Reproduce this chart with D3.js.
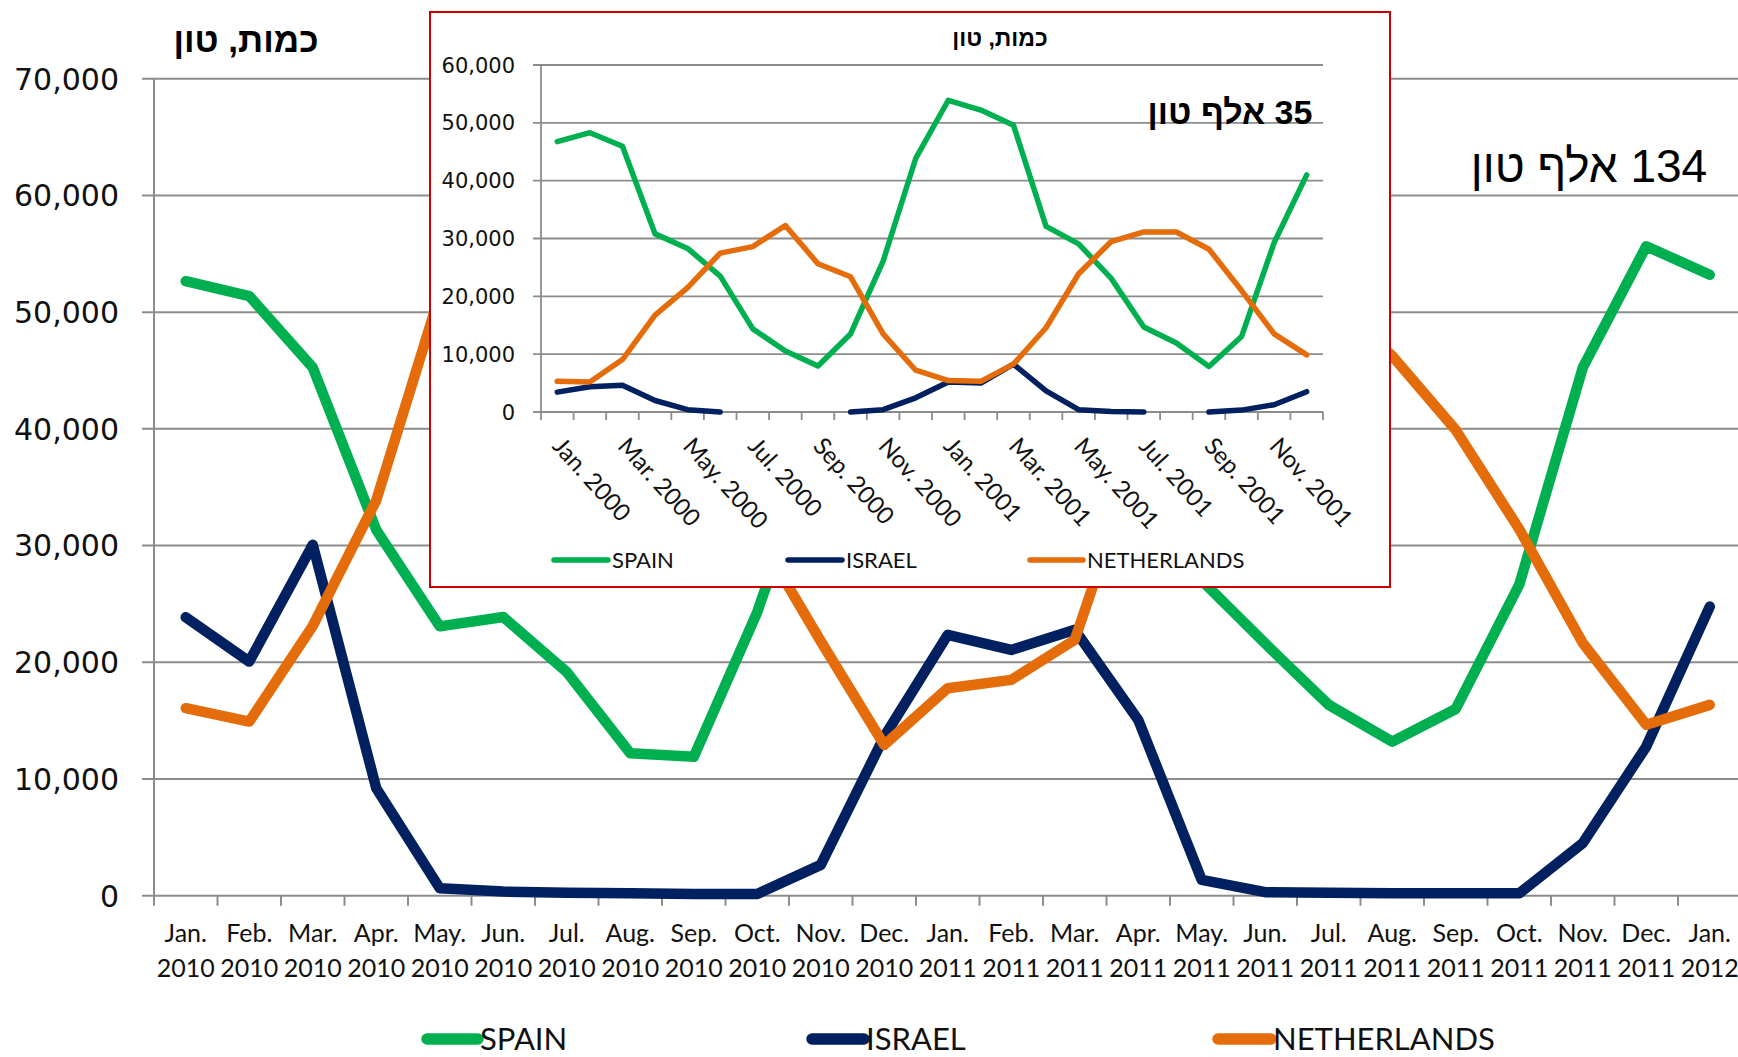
<!DOCTYPE html>
<html><head><meta charset="utf-8">
<script src="https://cdn.jsdelivr.net/npm/d3@7"></script>
<style>
html,body{margin:0;padding:0;background:#fff;overflow:hidden}
svg{display:block}
</style></head><body>
<svg id="chart" width="1738" height="1057"></svg>
<script>
// ---------- DATA ----------
const mainCategories = ["Jan. 2010","Feb. 2010","Mar. 2010","Apr. 2010","May. 2010","Jun. 2010","Jul. 2010","Aug. 2010","Sep. 2010","Oct. 2010","Nov. 2010","Dec. 2010",
  "Jan. 2011","Feb. 2011","Mar. 2011","Apr. 2011","May. 2011","Jun. 2011","Jul. 2011","Aug. 2011","Sep. 2011","Oct. 2011","Nov. 2011","Dec. 2011","Jan. 2012"];
const mainSpain = [52650,51380,45250,31350,23080,23880,19170,12200,11900,24300,40000,50000,55000,54000,47000,36000,27000,21600,16350,13200,16000,26650,45240,55650,53200];
const mainIsrael = [23860,20060,30060,9210,640,350,250,200,150,150,2640,13630,22350,21060,22780,15060,1350,300,250,200,200,200,4500,12780,24770];
const mainNetherlands = [16070,14920,23120,33880,51500,56000,57000,53000,43000,31000,21800,12920,17780,18490,21920,38000,48000,53000,51000,46250,39900,31400,21650,14640,16350];
const mainYTicks = [0,10000,20000,30000,40000,50000,60000,70000];

const insetCategories = ["Jan. 2000","Feb. 2000","Mar. 2000","Apr. 2000","May. 2000","Jun. 2000","Jul. 2000","Aug. 2000","Sep. 2000","Oct. 2000","Nov. 2000","Dec. 2000",
  "Jan. 2001","Feb. 2001","Mar. 2001","Apr. 2001","May. 2001","Jun. 2001","Jul. 2001","Aug. 2001","Sep. 2001","Oct. 2001","Nov. 2001","Dec. 2001"];
const insetSpain = [46750,48300,45960,30800,28280,23500,14370,10530,7950,13500,26100,43840,53900,52200,49600,32100,29070,23100,14700,11920,7880,13050,29270,41000];
const insetIsrael = [3440,4370,4640,1990,400,0,null,null,null,0,400,2450,5170,5000,8280,3640,400,100,0,null,0,330,1260,3510];
const insetNetherlands = [5300,5170,9070,16750,21520,27480,28600,32250,25630,23380,13510,7220,5430,5300,8280,14570,23900,29470,31130,31130,28150,21000,13510,9870];
const insetYTicks = [0,10000,20000,30000,40000,50000,60000];

const seriesNames = ["SPAIN","ISRAEL","NETHERLANDS"];
const seriesColors = ["#00B050","#002060","#E46C0A"];
const mainTitle = "כמות, טון";
const mainNote = "134 אלף טון";
const insetTitle = "כמות, טון";
const insetNote = "35 אלף טון";

// ---------- DRAW ----------
const svg = d3.select("#chart");
const fmt = d3.format(",");
const grid = "#8c8c8c";

// main chart
const mx = d3.scaleBand().domain(mainCategories).range([154, 1741.5]).padding(0);
const my = d3.scaleLinear().domain([0,70000]).range([895.7, 78.7]);
const mcx = c => mx(c) + mx.bandwidth()/2;

const gMain = svg.append("g");
gMain.selectAll("line.grid").data(mainYTicks).join("line")
  .attr("x1", 142).attr("x2", 1741.5)
  .attr("y1", d => my(d)).attr("y2", d => my(d))
  .attr("stroke", grid).attr("stroke-width", 2);
gMain.append("line").attr("x1", 154).attr("x2", 154).attr("y1", my(70000)).attr("y2", my(0)+10)
  .attr("stroke", grid).attr("stroke-width", 2);
gMain.selectAll("line.xt").data(mainCategories.slice(1).concat([null])).join("line")
  .attr("x1", d => d ? mx(d) : mx.range()[1]).attr("x2", d => d ? mx(d) : mx.range()[1])
  .attr("y1", my(0)).attr("y2", my(0)+10).attr("stroke", grid).attr("stroke-width", 2);
gMain.selectAll("text.yl").data(mainYTicks).join("text")
  .attr("x", 119).attr("y", d => my(d)).attr("dy", "0.36em")
  .attr("text-anchor", "end").attr("font-family", "DejaVu Sans, Verdana, sans-serif")
  .attr("font-size", 30).attr("fill", "#111").text(d => fmt(d));
const xl = gMain.selectAll("text.xl").data(mainCategories).join("text")
  .attr("text-anchor", "middle").attr("font-family", "Lato, Carlito, Calibri, sans-serif")
  .attr("font-size", 25).attr("fill", "#111");
xl.append("tspan").attr("x", d => mcx(d)).attr("y", 942).text(d => d.split(" ")[0]);
xl.append("tspan").attr("x", d => mcx(d)).attr("y", 977).text(d => d.split(" ")[1]);

const mainLine = d3.line().defined(d => d != null).x((d,i) => mcx(mainCategories[i])).y(d => my(d));
[mainSpain, mainIsrael, mainNetherlands].forEach((s, k) => {
  gMain.append("path").datum(s).attr("d", mainLine).attr("fill", "none")
    .attr("stroke", seriesColors[k]).attr("stroke-width", 10.5)
    .attr("stroke-linejoin", "round").attr("stroke-linecap", "round");
});
gMain.append("text").attr("x", 246).attr("y", 52).attr("text-anchor", "middle").attr("direction", "rtl")
  .attr("font-family", "Liberation Sans, Arial, sans-serif").attr("font-weight", "bold")
  .attr("font-size", 35).attr("fill", "#000").text(mainTitle);
gMain.append("text").attr("x", 1589).attr("y", 182).attr("text-anchor", "middle").attr("direction", "rtl")
  .attr("font-family", "Liberation Sans, Arial, sans-serif")
  .attr("font-size", 46).attr("fill", "#000").text(mainNote);

// main legend
const mainLegX = [[427, 478], [812, 864], [1218, 1271]];
seriesNames.forEach((n, k) => {
  gMain.append("line").attr("x1", mainLegX[k][0]).attr("x2", mainLegX[k][1]).attr("y1", 1039).attr("y2", 1039)
    .attr("stroke", seriesColors[k]).attr("stroke-width", 11.5).attr("stroke-linecap", "round");
  gMain.append("text").attr("x", mainLegX[k][1] + 2).attr("y", 1039).attr("dy", "0.36em")
    .attr("font-family", "Lato, Carlito, Calibri, sans-serif").attr("font-size", 31).attr("fill", "#111").text(n);
});

// inset chart
const gIn = svg.append("g");
gIn.append("rect").attr("x", 430).attr("y", 12).attr("width", 960).attr("height", 575)
  .attr("fill", "#fff").attr("stroke", "#cc0000").attr("stroke-width", 2);
const ix = d3.scaleBand().domain(insetCategories).range([541, 1323]).padding(0);
const iy = d3.scaleLinear().domain([0,60000]).range([412, 65]);
const icx = c => ix(c) + ix.bandwidth()/2;
gIn.selectAll("line.grid").data(insetYTicks).join("line")
  .attr("x1", 533).attr("x2", 1323)
  .attr("y1", d => iy(d)).attr("y2", d => iy(d))
  .attr("stroke", grid).attr("stroke-width", 1.8);
gIn.append("line").attr("x1", 541).attr("x2", 541).attr("y1", iy(60000)).attr("y2", iy(0)+8)
  .attr("stroke", grid).attr("stroke-width", 1.8);
gIn.selectAll("line.xt").data(insetCategories.slice(1).concat([null])).join("line")
  .attr("x1", d => d ? ix(d) : ix.range()[1]).attr("x2", d => d ? ix(d) : ix.range()[1])
  .attr("y1", iy(0)).attr("y2", iy(0)+8).attr("stroke", grid).attr("stroke-width", 1.8);
gIn.selectAll("text.yl").data(insetYTicks).join("text")
  .attr("x", 515).attr("y", d => iy(d)).attr("dy", "0.36em")
  .attr("text-anchor", "end").attr("font-family", "DejaVu Sans, Verdana, sans-serif")
  .attr("font-size", 21).attr("fill", "#111").text(d => fmt(d));
gIn.selectAll("text.xl").data(insetCategories.filter((d,i) => i % 2 === 0)).join("text")
  .attr("transform", d => `translate(${icx(d) - 6},${iy(0) + 35}) rotate(48)`)
  .attr("font-family", "Lato, Carlito, Calibri, sans-serif").attr("font-size", 24).attr("fill", "#111")
  .text(d => d);
const inLine = d3.line().defined(d => d != null).x((d,i) => icx(insetCategories[i])).y(d => iy(d));
[insetSpain, insetIsrael, insetNetherlands].forEach((s, k) => {
  gIn.append("path").datum(s).attr("d", inLine).attr("fill", "none")
    .attr("stroke", seriesColors[k]).attr("stroke-width", 5.5)
    .attr("stroke-linejoin", "round").attr("stroke-linecap", "round");
});
gIn.append("text").attr("x", 1000).attr("y", 46).attr("text-anchor", "middle").attr("direction", "rtl")
  .attr("font-family", "Liberation Sans, Arial, sans-serif").attr("font-weight", "bold")
  .attr("font-size", 23).attr("fill", "#000").text(insetTitle);
gIn.append("text").attr("x", 1230).attr("y", 124).attr("text-anchor", "middle").attr("direction", "rtl")
  .attr("font-family", "Liberation Sans, Arial, sans-serif").attr("font-weight", "bold")
  .attr("font-size", 34).attr("fill", "#000").text(insetNote);
const inLegX = [[554, 608], [788, 842], [1030, 1083]];
seriesNames.forEach((n, k) => {
  gIn.append("line").attr("x1", inLegX[k][0]).attr("x2", inLegX[k][1]).attr("y1", 560).attr("y2", 560)
    .attr("stroke", seriesColors[k]).attr("stroke-width", 5.5).attr("stroke-linecap", "round");
  gIn.append("text").attr("x", inLegX[k][1] + 4).attr("y", 560).attr("dy", "0.36em")
    .attr("font-family", "Lato, Carlito, Calibri, sans-serif").attr("font-size", 22).attr("fill", "#111").text(n);
});
</script>
</body></html>
